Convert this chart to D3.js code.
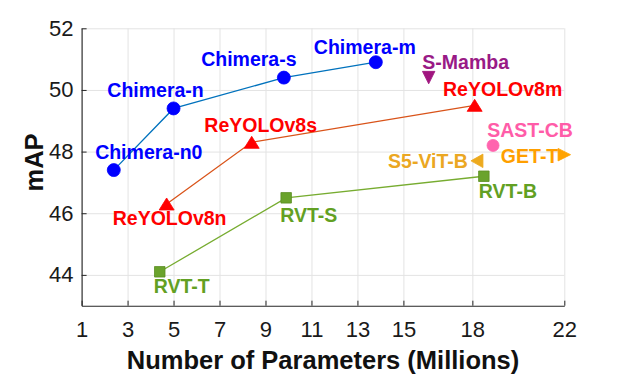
<!DOCTYPE html>
<html>
<head>
<meta charset="utf-8">
<script src="https://cdn.jsdelivr.net/npm/d3@7"></script>
<style>
  body { margin: 0; background: #fff; }
  svg text { font-family: "Liberation Sans", Arial, Helvetica, sans-serif; }
</style>
</head>
<body>
<div id="chart"></div>
<script>
// values
var chimeraNames = ["Chimera-n0", "Chimera-n", "Chimera-s", "Chimera-m"];
var chimeraParams = [2.4, 5.0, 9.8, 13.8];
var chimeraMAP = [47.4, 49.4, 50.4, 50.9];

var reyoloNames = ["ReYOLOv8n", "ReYOLOv8s", "ReYOLOv8m"];
var reyoloParams = [4.7, 8.4, 18.1];
var reyoloMAP = [46.3, 48.3, 49.5];

var rvtNames = ["RVT-T", "RVT-S", "RVT-B"];
var rvtParams = [4.4, 9.9, 18.5];
var rvtMAP = [44.1, 46.5, 47.2];

var otherNames = ["S-Mamba", "SAST-CB", "GET-T", "S5-ViT-B"];
var otherParams = [16.1, 18.9, 22.0, 18.2];
var otherMAP = [50.4, 48.2, 47.9, 47.7];

var xTicks = [1, 3, 5, 7, 9, 11, 13, 15, 18, 22];
var yTicks = [44, 46, 48, 50, 52];

// label placement relative to each marker: [dx, dy, anchor]
var labelPos = {
    "Chimera-n0": [35, -11, "middle"],
    "Chimera-n": [-18, -11, "middle"],
    "Chimera-s": [-35, -12, "middle"],
    "Chimera-m": [-11, -8, "middle"],
    "ReYOLOv8n": [3, 21, "middle"],
    "ReYOLOv8s": [9, -10, "middle"],
    "ReYOLOv8m": [28, -9, "middle"],
    "RVT-T": [-6, 21, "start"],
    "RVT-S": [-6, 24, "start"],
    "RVT-B": [-5, 22, "start"],
    "S-Mamba": [37, -9, "middle"],
    "SAST-CB": [37, -8, "middle"],
    "GET-T": [-6, 8, "end"],
    "S5-ViT-B": [-9, 7, "end"]
};

function zip(names, xs, ys) {
    return names.map(function(n, i) { return { name: n, x: xs[i], y: ys[i] }; });
}

var chimera = zip(chimeraNames, chimeraParams, chimeraMAP);
var reyolo = zip(reyoloNames, reyoloParams, reyoloMAP);
var rvt = zip(rvtNames, rvtParams, rvtMAP);
var others = zip(otherNames, otherParams, otherMAP);

var W = 624, H = 375;
var margin = { top: 28.3, right: 59.7, bottom: 69.3, left: 81.6 };
var width = W - margin.left - margin.right;
var height = H - margin.top - margin.bottom;

var svg = d3.select("#chart").append("svg")
    .attr("width", W)
    .attr("height", H);

var g = svg.append("g")
    .attr("transform", "translate(" + margin.left + "," + margin.top + ")");

var x = d3.scaleLinear().domain([1, 22]).range([0, width]);
var y = d3.scaleLinear().domain([43, 52]).range([height, 0]);

// grid
g.append("g")
    .attr("class", "grid")
    .attr("transform", "translate(0," + height + ")")
    .call(d3.axisBottom(x).tickValues(xTicks).tickSize(-height).tickFormat(""))
    .call(function(s) { s.select(".domain").remove(); });
g.append("g")
    .attr("class", "grid")
    .call(d3.axisLeft(y).tickValues(yTicks).tickSize(-width).tickFormat(""))
    .call(function(s) { s.select(".domain").remove(); });
g.selectAll(".grid line").attr("stroke", "#e3e3e3").attr("stroke-width", 1);

// axes
var xAxis = g.append("g")
    .attr("transform", "translate(0," + height + ")")
    .call(d3.axisBottom(x).tickValues(xTicks).tickSize(-5).tickSizeOuter(0).tickPadding(16));
var yAxis = g.append("g")
    .call(d3.axisLeft(y).tickValues(yTicks).tickSize(-5).tickSizeOuter(0).tickPadding(8));

[xAxis, yAxis].forEach(function(a) {
    a.select(".domain").attr("stroke", "#262626").attr("stroke-width", 1.1);
    a.selectAll(".tick line").attr("stroke", "#262626");
    a.selectAll(".tick text")
        .attr("fill", "#1a1a1a")
        .style("font-size", "22px")
        .style("font-family", "'Liberation Sans', Arial, sans-serif");
});

// titles
svg.append("text")
    .attr("x", 323)
    .attr("y", 369)
    .attr("text-anchor", "middle")
    .attr("fill", "#111")
    .style("font-size", "25.5px")
    .style("font-weight", "bold")
    .text("Number of Parameters (Millions)");

svg.append("text")
    .attr("transform", "translate(42.5,162.5) rotate(-90)")
    .attr("text-anchor", "middle")
    .attr("fill", "#111")
    .style("font-size", "25.5px")
    .style("font-weight", "bold")
    .text("mAP");

// lines
var line = d3.line()
    .x(function(d) { return x(d.x); })
    .y(function(d) { return y(d.y); });

function drawLine(data, color) {
    g.append("path")
        .datum(data)
        .attr("d", line)
        .attr("fill", "none")
        .attr("stroke", color)
        .attr("stroke-width", 1.3);
}
drawLine(chimera, "#0072BD");
drawLine(reyolo, "#D95319");
drawLine(rvt, "#77AC30");

// marker shapes centred on their box
function shape(kind, w, h) {
    var a = w / 2, b = h / 2;
    if (kind === "up") return "M" + (-a) + "," + b + "L" + a + "," + b + "L0," + (-b) + "Z";
    if (kind === "down") return "M" + (-a) + "," + (-b) + "L" + a + "," + (-b) + "L0," + b + "Z";
    if (kind === "right") return "M" + (-a) + "," + (-b) + "L" + (-a) + "," + b + "L" + a + ",0Z";
    if (kind === "left") return "M" + a + "," + (-b) + "L" + a + "," + b + "L" + (-a) + ",0Z";
    if (kind === "square") return "M" + (-a) + "," + (-b) + "h" + w + "v" + h + "h" + (-w) + "Z";
    // circle
    return "M" + a + ",0A" + a + "," + a + " 0 1,1 " + (-a) + ",0A" + a + "," + a + " 0 1,1 " + a + ",0Z";
}

function drawMarkers(data, kinds, fill, stroke, w, h, labelColor) {
    g.selectAll(null)
        .data(data)
        .enter().append("path")
        .attr("transform", function(d) { return "translate(" + x(d.x) + "," + y(d.y) + ")"; })
        .attr("d", function(d, i) { return shape(kinds[i], w[i], h[i]); })
        .attr("fill", function(d, i) { return fill[i]; })
        .attr("stroke", function(d, i) { return stroke[i]; })
        .attr("stroke-width", 0.8);

    g.selectAll(null)
        .data(data)
        .enter().append("text")
        .attr("x", function(d) { return x(d.x) + labelPos[d.name][0]; })
        .attr("y", function(d) { return y(d.y) + labelPos[d.name][1]; })
        .attr("text-anchor", function(d) { return labelPos[d.name][2]; })
        .attr("fill", function(d, i) { return labelColor[i]; })
        .style("font-size", "19.5px")
        .style("font-weight", "bold")
        .text(function(d) { return d.name; });
}

var blue = "#0000FF", red = "#FF0000", green = "#6AA32C", greenDark = "#5A8E22";
drawMarkers(chimera, ["circle", "circle", "circle", "circle"],
    [blue, blue, blue, blue], [blue, blue, blue, blue],
    [13, 13, 13, 13], [13, 13, 13, 13], [blue, blue, blue, blue]);
drawMarkers(reyolo, ["up", "up", "up"],
    [red, red, red], [red, red, red],
    [15, 15, 15], [12, 12, 12], [red, red, red]);
drawMarkers(rvt, ["square", "square", "square"],
    [green, green, green], [greenDark, greenDark, greenDark],
    [10.5, 10.5, 10.5], [10.5, 10.5, 10.5], ["#62A023", "#62A023", "#62A023"]);
drawMarkers(others, ["down", "circle", "right", "left"],
    ["#A0157F", "#FF64AE", "#FFA300", "#EDAA1E"],
    ["#A0157F", "#FF64AE", "#FFA300", "#EDAA1E"],
    [12.5, 12, 12.5, 12], [12.5, 12, 12.5, 13.5],
    ["#991A86", "#FF5CA8", "#FF9F00", "#EBA722"]);
</script>
</body>
</html>
